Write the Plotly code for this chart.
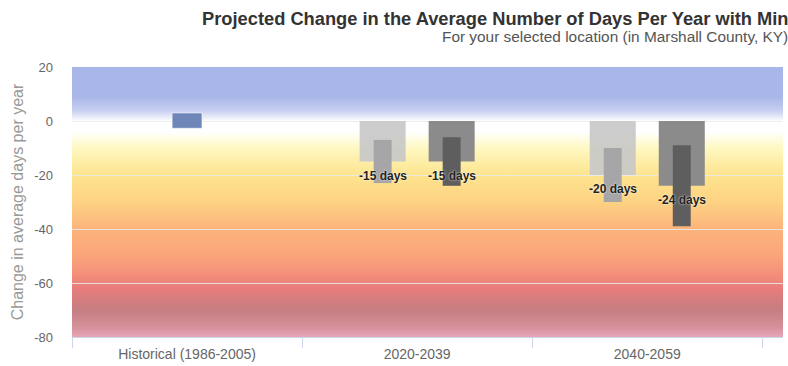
import base64
import plotly.graph_objects as go

# --- data -------------------------------------------------------------
periods = ["Historical (1986-2005)", "2020-2039", "2040-2059"]
period_pos = [0, 1, 2]

hist_low = [-2.7]
hist_high = [3.0]

future_pos = [1, 2]
lower_median = [-15, -20]
lower_min = [-23, -30]
lower_max = [-7, -10]
higher_median = [-15, -24]
higher_min = [-24, -39]
higher_max = [-6, -9]

y_ticks = [20, 0, -20, -40, -60, -80]
y_ticktext = ["20", "0", "-20", "-40", "-60", "-80"]

# --- background gradient (value -> colour) ----------------------------
grad_stops = [
    (20, "#a9b6e8"), (9, "#a9b6e8"), (4, "#c6cef0"), (1, "#eef0fa"),
    (0, "#ffffff"), (-4, "#ffffff"), (-10, "#fef8c2"), (-20, "#fde48e"),
    (-30, "#fdd283"), (-40, "#fcb47c"), (-50, "#fba47a"), (-56, "#f5927a"),
    (-62, "#e87c7b"), (-70, "#c57e82"), (-76, "#d38f99"), (-80, "#e6a6b6"),
]
y_min, y_max = -80, 20
stops_svg = "".join(
    f'<stop offset="{(y_max - v) / (y_max - y_min):.4f}" stop-color="{c}"/>'
    for v, c in grad_stops
)
svg = (
    '<svg xmlns="http://www.w3.org/2000/svg" width="100" height="1000" '
    'preserveAspectRatio="none"><defs><linearGradient id="g" x1="0" y1="0" '
    f'x2="0" y2="1">{stops_svg}</linearGradient></defs>'
    '<rect width="100" height="1000" fill="url(#g)"/></svg>'
)
bg_uri = "data:image/svg+xml;base64," + base64.b64encode(svg.encode()).decode()

x_range = [-0.5, 2.59]
FONT = "Arial, Liberation Sans, sans-serif"

fig = go.Figure()

# historical range
fig.add_trace(go.Bar(
    x=period_pos[:1], base=hist_low,
    y=[h - l for h, l in zip(hist_high, hist_low)],
    width=0.13, offset=-0.065,
    marker=dict(color="#6f87b8", line=dict(color="rgba(255,255,255,0.6)", width=1)),
    hoverinfo="skip", showlegend=False,
))

# medians (wide) and ranges (narrow) for the two scenarios
fig.add_trace(go.Bar(
    x=future_pos, y=lower_median, base=[0, 0], width=0.2, offset=-0.25,
    marker=dict(color="rgba(200,200,200,0.92)", line_width=0),
    hoverinfo="skip", showlegend=False,
))
fig.add_trace(go.Bar(
    x=future_pos, base=lower_min,
    y=[hi - lo for hi, lo in zip(lower_max, lower_min)],
    width=0.078, offset=-0.189,
    marker=dict(color="#a6a6a9", line_width=0),
    hoverinfo="skip", showlegend=False,
))
fig.add_trace(go.Bar(
    x=future_pos, y=higher_median, base=[0, 0], width=0.2, offset=0.05,
    marker=dict(color="#8b8b8b", line_width=0),
    hoverinfo="skip", showlegend=False,
))
fig.add_trace(go.Bar(
    x=future_pos, base=higher_min,
    y=[hi - lo for hi, lo in zip(higher_max, higher_min)],
    width=0.078, offset=0.111,
    marker=dict(color="#5e5e5e", line_width=0),
    hoverinfo="skip", showlegend=False,
))

annotations = []
label_font = dict(family=FONT, size=12, color="#222222", weight="bold",
                  shadow="0px 0px 2px white")
for xp, v in zip(future_pos, lower_median):
    annotations.append(dict(x=xp - 0.15, y=v, xref="x", yref="y",
                            text=f"{v} days", showarrow=False,
                            yanchor="top", yshift=-5, font=label_font))
for xp, v in zip(future_pos, higher_median):
    annotations.append(dict(x=xp + 0.15, y=v, xref="x", yref="y",
                            text=f"{v} days", showarrow=False,
                            yanchor="top", yshift=-5, font=label_font))

# subtitle
annotations.append(dict(
    text="For your selected location (in Marshall County, KY)",
    xref="paper", yref="paper", x=(440 - 72) / (783 - 72), xanchor="left",
    y=1 + (67 - 37) / (337 - 67), yanchor="middle", showarrow=False,
    font=dict(family=FONT, size=15.4, color="#555555"),
))

fig.update_layout(
    width=788, height=366,
    margin=dict(l=72, r=5, t=67, b=29),
    paper_bgcolor="white", plot_bgcolor="white",
    barmode="overlay",
    title=dict(
        text="<b>Projected Change in the Average Number of Days Per Year with Min</b>",
        x=202 / 788, xanchor="left", y=1 - 19 / 366, yanchor="middle",
        font=dict(family=FONT, size=18.3, color="#333333"),
    ),
    images=[dict(source=bg_uri, xref="x", yref="y", x=x_range[0] - 0.05, y=y_max,
                 sizex=x_range[1] - x_range[0] + 0.1, sizey=y_max - y_min,
                 sizing="stretch", layer="below", xanchor="left", yanchor="top")],
    annotations=annotations,
    font=dict(family=FONT),
)

fig.update_xaxes(
    range=x_range, tickmode="array", tickvals=period_pos, ticktext=periods,
    ticks="", showgrid=False, zeroline=False, automargin=False,
    showline=True, linecolor="#ccd6eb", linewidth=1,
    tickfont=dict(size=14, color="#666666"),
    ticklabelstandoff=4,
    minor=dict(tickmode="array", tickvals=[-0.5, 0.5, 1.5, 2.5], ticks="outside",
               ticklen=10, tickcolor="#ccd6eb", tickwidth=1, showgrid=False),
)
fig.update_yaxes(
    range=[y_min, y_max], tickmode="array", tickvals=y_ticks, ticktext=y_ticktext,
    showgrid=True, gridcolor="rgba(235,235,235,0.85)", gridwidth=1,
    zeroline=False, showline=False, automargin=False,
    tickfont=dict(size=13, color="#666666"),
    ticklabelstandoff=18,
    title=dict(text="Change in average days per year",
               font=dict(size=16, color="#999999"), standoff=6),
)

fig.write_html("out.html")
